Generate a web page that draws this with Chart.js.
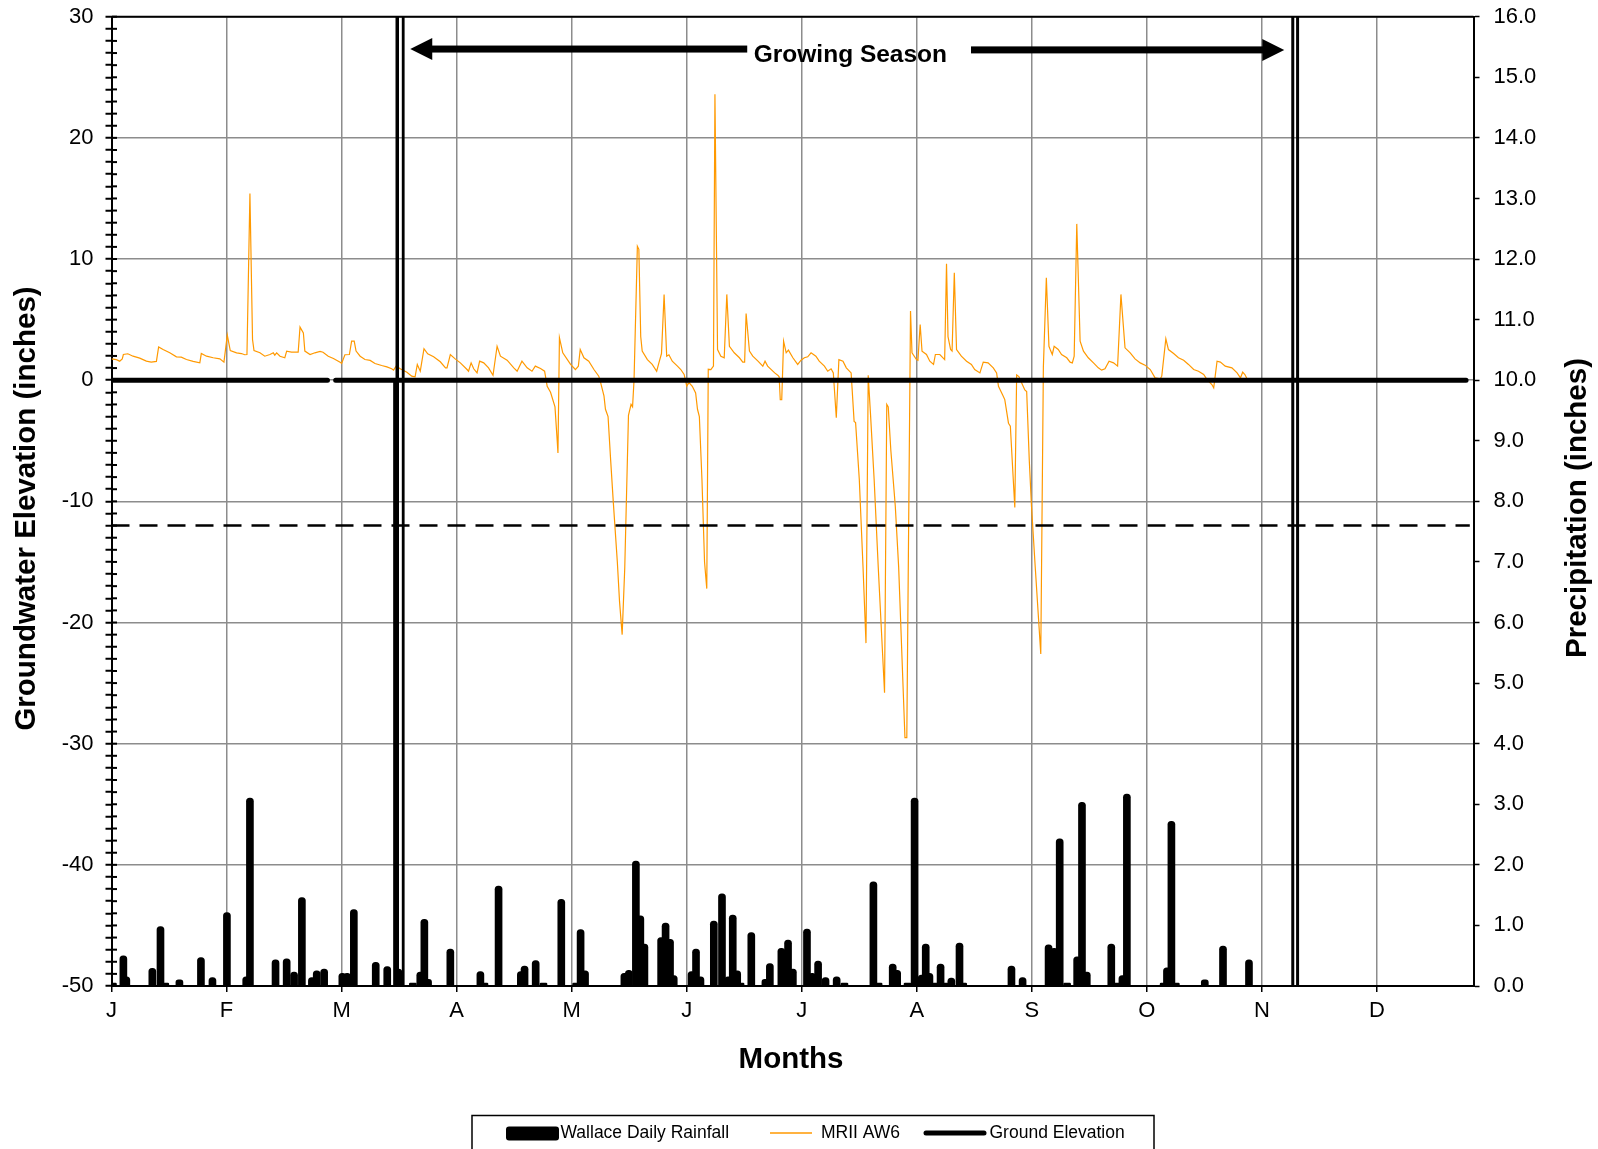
<!DOCTYPE html>
<html><head><meta charset="utf-8">
<script src="https://cdn.jsdelivr.net/npm/chart.js@4"></script>
<style>html,body{margin:0;padding:0;background:#fff;}canvas{display:block;}</style>
</head><body>
<canvas id="c" width="1598" height="1149"></canvas>
<script>
// ---------- DATA ----------
const monthLabels = ['J','F','M','A','M','J','J','A','S','O','N','D'];

// Wallace daily rainfall (day of year, inches)
const rainDays = [0.4,3.2,4.0,11.0,13.2,14.5,18.3,24.1,27.2,31.1,36.3,37.3,44.2,47.2,49.2,51.3,54.0,55.3,57.3,62.2,63.5,65.3,71.2,74.3,77.3,81.2,83.2,84.3,85.3,91.3,99.4,100.5,104.3,110.3,111.3,114.3,116.4,121.2,125.2,126.4,127.6,138.2,139.4,141.3,142.5,143.6,148.1,149.3,150.5,151.5,156.3,157.5,158.7,162.3,164.5,166.2,167.4,168.6,169.5,172.4,176.2,177.4,180.5,182.3,183.6,187.4,188.8,190.4,192.4,195.4,197.5,205.3,206.7,210.5,211.7,214.5,216.4,218.3,219.4,220.4,222.2,223.4,225.0,226.3,228.5,229.5,242.5,245.5,252.5,254.0,255.5,257.5,260.2,261.5,262.8,269.4,271.1,272.4,273.6,283.5,284.4,285.6,286.8,294.6,299.5,306.5];
const rainInches = [0.05,0.50,0.15,0.29,0.98,0.05,0.10,0.47,0.14,1.21,0.15,3.10,0.43,0.45,0.23,1.46,0.14,0.25,0.28,0.21,0.21,1.26,0.39,0.32,0.28,0.05,0.23,1.10,0.11,0.61,0.24,0.05,1.65,0.24,0.33,0.42,0.05,1.43,0.05,0.93,0.25,0.21,0.26,2.06,1.16,0.69,0.80,1.04,0.77,0.17,0.24,0.61,0.15,1.07,1.52,0.15,1.17,0.25,0.05,0.88,0.11,0.37,0.62,0.76,0.28,0.94,0.21,0.41,0.14,0.15,0.05,1.72,0.05,0.36,0.26,0.05,3.10,0.18,0.69,0.21,0.05,0.36,0.05,0.13,0.71,0.05,0.33,0.14,0.68,0.62,2.43,0.05,0.48,3.03,0.23,0.69,0.05,0.17,3.17,0.05,0.30,2.72,0.05,0.10,0.66,0.43];

// MRII AW6 groundwater elevation (day of year, inches relative to ground)
const gwDays = [0,1.3,2.2,2.9,3.2,4.4,5.8,7.6,9.4,10.7,12.1,12.7,13.9,15.7,17.5,18.8,20.2,22.0,23.8,24.2,25.6,27.4,29.2,30.3,31.2,32.0,33.7,35.0,35.9,36.5,37.3,38.0,38.4,40.0,41.3,42.7,43.6,44.0,44.5,45.4,46.7,47.2,48.5,50.3,50.8,51.7,52.1,53.5,54.8,56.2,57.0,58.4,59.8,61.6,62.0,62.9,64.1,64.7,65.4,65.9,67.0,68.3,69.7,71.0,72.8,74.2,75.5,76.0,76.7,77.8,79.6,80.9,81.8,82.4,83.2,84.2,85.2,86.8,88.6,90.0,90.4,91.3,92.6,94.0,95.8,96.2,96.9,97.6,98.5,99.2,100.3,101.6,102.8,103.9,104.8,106.6,108.4,109.3,110.6,112.0,113.3,114.2,115.6,116.7,117.4,118.3,119.5,120.1,120.3,120.7,121.6,123.7,125.0,125.8,126.3,127.3,128.6,130.0,131.3,131.8,132.7,133.1,133.8,134.5,135.2,136.3,136.9,137.6,138.3,139.3,140.0,140.4,140.8,141.7,142.1,142.6,143.0,144.4,145.7,146.9,147.5,148.2,148.9,149.6,150.2,151.1,152.5,153.4,154.3,155.0,155.6,156.5,157.4,157.9,158.4,159.1,159.8,160.4,160.8,161.5,162.2,162.6,163.3,164.2,165.1,165.8,166.5,167.8,169.2,170.1,170.6,171.0,171.9,172.8,174.2,175.5,176.1,176.8,178.7,179.6,179.9,180.2,180.6,181.1,181.8,182.4,183.6,184.9,185.8,186.7,187.6,188.5,189.8,190.7,192.1,193.0,193.9,194.5,195.3,196.0,197.1,198.0,199.3,200.1,200.5,201.5,202.5,203.3,203.9,204.5,205.5,206.6,208.3,208.9,209.3,210.0,211.2,212.1,213.8,214.3,215.3,215.7,216.9,217.3,217.9,218.4,219.6,220.5,221.5,222.0,223.2,224.5,225.0,225.4,226.1,226.5,227.1,227.7,229.0,230.4,231.7,232.6,234.0,234.9,236.2,237.6,238.5,239.0,240.1,240.7,241.7,242.2,243.4,243.9,244.5,245.2,246.1,246.6,247.3,247.9,248.9,250.4,251.1,251.9,252.6,253.1,253.5,254.0,255.1,256.0,257.4,258.3,258.9,259.4,260.1,261.0,261.9,263.2,264.6,265.9,266.8,267.7,268.8,270.0,271.1,272.0,273.1,274.5,275.8,277.2,278.5,279.9,281.2,282.6,283.0,284.1,284.8,286.2,287.5,288.9,290.2,291.6,292.9,294.3,295.2,296.5,297.0,297.9,298.8,300.1,301.9,303.3,304.2,304.8,305.4,306.0];
const gwLevels = [1.76,1.7,1.57,1.76,2.12,2.18,1.98,1.82,1.57,1.49,1.55,2.75,2.53,2.26,1.93,1.9,1.71,1.55,1.43,2.2,1.98,1.85,1.76,1.49,3.72,2.45,2.26,2.2,2.1,2.12,15.4,3.36,2.45,2.26,1.98,2.12,2.26,2.07,2.26,1.98,1.85,2.4,2.31,2.31,4.38,3.9,2.4,2.12,2.26,2.37,2.31,1.98,1.79,1.49,1.38,2.1,2.12,3.22,3.22,2.4,1.98,1.71,1.63,1.38,1.21,1.1,0.94,0.83,1.16,0.94,0.66,0.33,0.28,1.3,0.74,2.6,2.18,1.93,1.52,1.02,1.02,2.12,1.76,1.43,0.88,0.74,1.43,0.94,0.6,1.57,1.43,1.02,0.41,2.8,1.98,1.65,1.02,0.74,1.57,1.02,0.74,1.16,0.96,0.74,-0.5,-1.0,-2.2,-5.0,-6.0,3.5,2.26,1.3,0.88,1.16,2.53,1.85,1.57,0.88,0.33,-0.2,-1.3,-2.4,-3.0,-6.6,-10.0,-15.0,-18.3,-21.0,-15.5,-2.9,-2.0,-2.2,0.0,11.05,10.8,3.6,2.4,1.7,1.3,0.74,1.43,2.2,7.08,1.98,2.1,1.57,1.16,0.88,0.47,-0.5,-0.2,-0.5,-1.05,-2.4,-3.0,-8.2,-15.0,-17.2,0.9,0.88,1.16,23.6,2.53,1.98,1.85,7.08,2.8,2.26,1.85,1.49,1.49,5.5,2.4,1.98,1.57,1.16,1.57,1.16,0.6,0.39,0.28,-1.6,-1.6,3.22,2.26,2.48,1.85,1.3,1.65,1.85,1.93,2.26,1.98,1.57,1.16,0.74,0.94,0.6,-3.1,1.7,1.57,1.02,0.6,-3.4,-3.5,-8.2,-15.4,-21.7,0.4,-2.7,-8.2,-15.4,-25.8,-2.0,-2.2,-5.8,-10.4,-15.4,-29.5,-29.5,5.7,2.26,1.71,1.65,4.6,2.4,2.12,1.57,1.3,2.12,2.12,1.7,9.6,3.6,2.53,2.4,8.87,2.53,1.98,1.57,1.3,0.88,0.6,1.49,1.43,1.02,0.6,-0.5,-1.2,-1.6,-3.55,-3.8,-10.5,0.44,0.3,-0.2,-0.8,-0.94,-6.6,-10.4,-15.4,-22.6,1.1,8.46,2.8,2.4,2.12,2.8,2.53,2.12,1.85,1.49,1.43,1.98,12.9,3.22,2.4,1.85,1.43,1.02,0.83,0.94,1.57,1.43,1.16,7.08,2.67,2.26,1.76,1.43,1.24,0.88,0.19,0.11,0.33,3.42,2.53,2.2,1.85,1.65,1.3,0.88,0.74,0.47,0.05,-0.36,-0.63,1.57,1.49,1.16,1.02,0.6,0.19,0.66,0.47,0.1];

// Ground elevation reference (with the small break seen in the original)
const groundDays = [0, 58.2, 59.3, 60.4, 365];
const groundLevels = [0, 0, null, 0, 0];
// 12-inch criterion line
const criterionDays = [0, 366];
const criterionLevels = [-12, -12];
// Growing season boundaries
const seasonStartDays = [77.0, 78.6];
const seasonEndDays = [318.3, 319.6];
const axisLimits = {dayMax: 367, gwMin: -50, gwMax: 30, rainMax: 16};
const seasonLabel = 'Growing Season';

// ---------- CHART ----------
const FONT = "'Liberation Sans', Arial, sans-serif";
const pts = (xs, ys) => xs.map((x, i) => ({x: x, y: ys[i]}));
const vline = (d, y0, y1) => [{x: d, y: y0}, {x: d, y: y1}];
const noPad = s => { s.paddingTop = 0; s.paddingBottom = 0; s.paddingLeft = 0; s.paddingRight = 0; };

const overlay = {
  id: 'overlay',
  afterDatasetsDraw(chart) {
    const ctx = chart.ctx, ca = chart.chartArea;
    const xs = chart.scales.x, ys = chart.scales.y;
    ctx.save();
    ctx.strokeStyle = '#000'; ctx.lineWidth = 2;
    ctx.beginPath(); ctx.moveTo(ca.left, ca.top); ctx.lineTo(ca.right, ca.top); ctx.stroke();
    ys.ticks.forEach(t => {
      const y = ys.getPixelForValue(t.value);
      ctx.beginPath(); ctx.moveTo(ca.left, y); ctx.lineTo(ca.left + 5.5, y); ctx.stroke();
    });
    ctx.fillStyle = '#000';
    const yl = ys.getPixelForValue(27.33), yr = ys.getPixelForValue(27.26);
    const lt = xs.getPixelForValue(80.5), le = xs.getPixelForValue(171.3);
    ctx.fillRect(lt + 20, yl - 3.5, le - lt - 20, 7);
    ctx.beginPath(); ctx.moveTo(lt, yl); ctx.lineTo(lt + 22, yl - 11); ctx.lineTo(lt + 22, yl + 11); ctx.closePath(); ctx.fill();
    const rs = xs.getPixelForValue(231.6), rt = xs.getPixelForValue(316.0);
    ctx.fillRect(rs, yr - 3.5, rt - 20 - rs, 7);
    ctx.beginPath(); ctx.moveTo(rt, yr); ctx.lineTo(rt - 22, yr - 11); ctx.lineTo(rt - 22, yr + 11); ctx.closePath(); ctx.fill();
    ctx.font = "bold 24.5px " + FONT; ctx.textAlign = 'center'; ctx.textBaseline = 'middle';
    ctx.fillText(seasonLabel, xs.getPixelForValue(199.1), ys.getPixelForValue(26.83));
    ctx.restore();
  },
  afterDraw(chart) {
    const ctx = chart.ctx;
    ctx.save();
    ctx.fillStyle = '#000';
    ctx.font = "bold 29.5px " + FONT; ctx.textAlign = 'center'; ctx.textBaseline = 'middle';
    ctx.save(); ctx.translate(27, 508.5); ctx.rotate(-Math.PI / 2); ctx.fillText('Groundwater Elevation (inches)', 0, 0); ctx.restore();
    ctx.save(); ctx.translate(1577.5, 508); ctx.rotate(-Math.PI / 2); ctx.fillText('Precipitation (inches)', 0, 0); ctx.restore();
    ctx.fillText('Months', 791, 1060);
    const ds = chart.data.datasets;
    ctx.fillStyle = '#fff'; ctx.fillRect(472, 1115.5, 682, 40);
    ctx.strokeStyle = '#000'; ctx.lineWidth = 1.5; ctx.strokeRect(472, 1115.5, 682, 40);
    ctx.fillStyle = '#000';
    ctx.beginPath(); ctx.roundRect(506, 1126.5, 53, 14, 3); ctx.fill();
    ctx.font = "17.5px " + FONT; ctx.textAlign = 'left';
    ctx.fillText(ds[0].label, 560.5, 1133.5);
    ctx.strokeStyle = ds[1].borderColor; ctx.lineWidth = 1.5;
    ctx.beginPath(); ctx.moveTo(770, 1133); ctx.lineTo(812, 1133); ctx.stroke();
    ctx.fillText(ds[1].label, 821, 1133.5);
    ctx.strokeStyle = '#000'; ctx.lineWidth = 5; ctx.lineCap = 'round';
    ctx.beginPath(); ctx.moveTo(926, 1133); ctx.lineTo(984, 1133); ctx.stroke();
    ctx.fillText(ds[2].label, 989.5, 1133.5);
    ctx.restore();
  }
};

const lineBase = {type: 'line', pointRadius: 0, borderColor: '#000', yAxisID: 'y', fill: false, tension: 0};

new Chart(document.getElementById('c'), {
  type: 'line',
  data: {
    datasets: [
      {type: 'bar', label: 'Wallace Daily Rainfall', data: pts(rainDays, rainInches), yAxisID: 'y2',
       backgroundColor: '#000', borderWidth: 0, barThickness: 7, borderRadius: 3.5, order: 6},
      Object.assign({}, lineBase, {label: 'MRII AW6', data: pts(gwDays, gwLevels), borderColor: '#FF9900', borderWidth: 1.2, order: 5}),
      Object.assign({}, lineBase, {label: 'Ground Elevation', data: pts(groundDays, groundLevels), borderWidth: 5, borderCapStyle: 'round', spanGaps: false, order: 3}),
      Object.assign({}, lineBase, {label: 'Criterion', data: pts(criterionDays, criterionLevels), borderWidth: 2.5, borderDash: [18, 10], order: 4}),
      Object.assign({}, lineBase, {label: 'Season start A', data: vline(seasonStartDays[0], axisLimits.gwMin, axisLimits.gwMax), borderWidth: 3.5, order: 1}),
      Object.assign({}, lineBase, {label: 'Season start A2', data: vline(seasonStartDays[0] - 0.7, axisLimits.gwMin, 0), borderWidth: 3, order: 1}),
      Object.assign({}, lineBase, {label: 'Season start B', data: vline(seasonStartDays[1], axisLimits.gwMin, axisLimits.gwMax), borderWidth: 2.8, order: 1}),
      Object.assign({}, lineBase, {label: 'Season end A', data: vline(seasonEndDays[0], axisLimits.gwMin, axisLimits.gwMax), borderWidth: 3, order: 1}),
      Object.assign({}, lineBase, {label: 'Season end B', data: vline(seasonEndDays[1], axisLimits.gwMin, axisLimits.gwMax), borderWidth: 3, order: 1})
    ]
  },
  options: {
    responsive: false, animation: false, devicePixelRatio: 1,
    layout: {padding: {top: 16.7, left: 0, right: 0, bottom: 0}},
    plugins: {legend: {display: false}, tooltip: {enabled: false}, title: {display: false}},
    scales: {
      x: {type: 'linear', min: 0, max: axisLimits.dayMax, offset: false,
        ticks: {stepSize: 31, includeBounds: false, autoSkip: false, maxRotation: 0, color: '#000', padding: 6,
          font: {family: FONT, size: 22}, callback: (v, i) => (monthLabels[i] !== undefined ? monthLabels[i] : '')},
        grid: {offset: false, color: '#8c8c8c', lineWidth: 1.5, tickColor: '#000', tickLength: 6, tickWidth: 1.5},
        border: {color: '#000', width: 2},
        afterFit: s => { s.height = 163; noPad(s); }},
      y: {type: 'linear', position: 'left', min: axisLimits.gwMin, max: axisLimits.gwMax,
        ticks: {stepSize: 1, autoSkip: false, color: '#000', padding: 12, font: {family: FONT, size: 22},
          callback: v => (Math.round(v) % 10 === 0 ? String(v) : '')},
        grid: {color: c => (Math.round(c.tick.value) % 10 === 0 ? '#8c8c8c' : 'rgba(0,0,0,0)'), lineWidth: 1.5,
          tickColor: '#000', tickLength: 6, tickWidth: 2},
        border: {color: '#000', width: 2},
        afterFit: s => { s.width = 111.5; noPad(s); }},
      y2: {type: 'linear', position: 'right', min: 0, max: axisLimits.rainMax,
        ticks: {stepSize: 1, color: '#000', padding: 14, font: {family: FONT, size: 22}, callback: v => Number(v).toFixed(1)},
        grid: {drawOnChartArea: false, tickColor: '#000', tickLength: 6, tickWidth: 1.5},
        border: {color: '#000', width: 2},
        afterFit: s => { s.width = 124.5; noPad(s); }}
    }
  },
  plugins: [overlay]
});
</script>
</body></html>
